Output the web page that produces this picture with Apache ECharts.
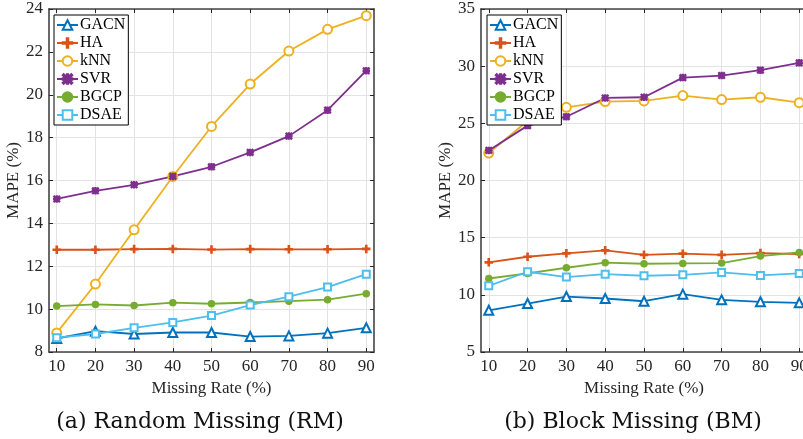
<!DOCTYPE html>
<html>
<head>
<meta charset="utf-8">
<script src="https://cdn.jsdelivr.net/npm/echarts@6/dist/echarts.min.js"></script>
<style>
  html, body { margin: 0; padding: 0; background: #fff; }
  #main { width: 803px; height: 439px; }
</style>
</head>
<body>
<div id="main"></div>
<script>
// 缺失率 (%)
const missingRates = [10, 20, 30, 40, 50, 60, 70, 80, 90];
const methods = ['GACN', 'HA', 'kNN', 'SVR', 'BGCP', 'DSAE'];

// (a) Random Missing
const rmGACN = [8.63, 8.97, 8.84, 8.91, 8.91, 8.72, 8.75, 8.88, 9.13];
const rmHA   = [12.77, 12.77, 12.80, 12.81, 12.78, 12.80, 12.79, 12.79, 12.81];
const rmKNN  = [8.89, 11.17, 13.70, 16.19, 18.52, 20.50, 22.04, 23.05, 23.69];
const rmSVR  = [15.14, 15.52, 15.80, 16.19, 16.64, 17.31, 18.07, 19.28, 21.12];
const rmBGCP = [10.14, 10.22, 10.17, 10.30, 10.25, 10.31, 10.37, 10.44, 10.72];
const rmDSAE = [8.67, 8.84, 9.13, 9.38, 9.70, 10.19, 10.58, 11.03, 11.63];

// (b) Block Missing
const bmGACN = [8.65, 9.24, 9.85, 9.68, 9.44, 10.06, 9.56, 9.39, 9.30];
const bmHA   = [12.84, 13.33, 13.63, 13.89, 13.50, 13.60, 13.50, 13.65, 13.57];
const bmKNN  = [22.40, 25.20, 26.40, 26.90, 26.96, 27.43, 27.08, 27.28, 26.81];
const bmSVR  = [22.63, 24.80, 25.58, 27.22, 27.28, 29.00, 29.18, 29.65, 30.29];
const bmBGCP = [11.43, 11.87, 12.37, 12.81, 12.72, 12.75, 12.78, 13.39, 13.71];
const bmDSAE = [10.79, 12.02, 11.55, 11.81, 11.67, 11.75, 11.96, 11.70, 11.87];

const colors = ['#0072BD', '#D95319', '#EDB120', '#7E2F8E', '#77AC30', '#4DBEEE'];
const plusPath = 'path://M4.2,0H5.8V4.2H10V5.8H5.8V10H4.2V5.8H0V4.2H4.2Z';
const starPath = 'path://M4.3,0H5.7V10H4.3Z M0,4.3H10V5.7H0Z M0,1L1,0L10,9L9,10Z M9,0L10,1L1,10L0,9Z';
const symbols = ['emptyTriangle', plusPath, 'emptyCircle', starPath, 'circle', 'emptyRect'];
const symbolSizes = [9, 7, 9, 6, 6, 7];

const font = 'Liberation Serif';
const axisColor = '#262626';

function pairs(arr) {
    return arr.map((v, i) => [missingRates[i], v]);
}

function makeSeries(list, gridIdx) {
    return list.map((arr, k) => ({
        name: methods[k],
        type: 'line',
        xAxisIndex: gridIdx * 2,
        yAxisIndex: gridIdx * 2,
        data: pairs(arr),
        symbol: symbols[k],
        symbolSize: symbolSizes[k],
        showAllSymbol: true,
        lineStyle: { color: colors[k], width: 1.8 },
        itemStyle: { color: colors[k], borderColor: colors[k], borderWidth: 1.5 },
        emphasis: { disabled: true },
        animation: false
    }));
}

function xAxes(gridIdx) {
    return [{
        type: 'value', gridIndex: gridIdx, min: 8, max: 92,
        name: 'Missing Rate (%)', nameLocation: 'middle', nameGap: 27,
        nameTextStyle: { fontFamily: font, fontSize: 17, color: axisColor },
        axisLine: { lineStyle: { color: '#444', width: 1.6 } },
        axisTick: { inside: true, length: 4, customValues: missingRates, lineStyle: { color: axisColor } },
        axisLabel: { customValues: missingRates, margin: 6, fontFamily: font, fontSize: 17, color: axisColor },
        splitLine: { show: true, lineStyle: { color: '#e3e3e3', width: 1 } }
    }, {
        type: 'value', gridIndex: gridIdx, min: 8, max: 92, position: 'top',
        axisLine: { lineStyle: { color: '#444', width: 1.6 } },
        axisTick: { inside: true, length: 4, customValues: missingRates, lineStyle: { color: axisColor } },
        axisLabel: { show: false },
        splitLine: { show: false }
    }];
}

function yAxes(gridIdx, min, max, interval) {
    return [{
        type: 'value', gridIndex: gridIdx, min: min, max: max, interval: interval,
        name: 'MAPE (%)', nameLocation: 'middle', nameGap: 23,
        nameTextStyle: { fontFamily: font, fontSize: 17, color: axisColor },
        axisLine: { show: true, lineStyle: { color: '#444', width: 1.6 } },
        axisTick: { show: true, inside: true, length: 4, lineStyle: { color: axisColor } },
        axisLabel: { margin: 6, fontFamily: font, fontSize: 17, color: axisColor },
        splitLine: { show: true, lineStyle: { color: '#e3e3e3', width: 1 } }
    }, {
        type: 'value', gridIndex: gridIdx, min: min, max: max, interval: interval, position: 'right',
        axisLine: { show: true, lineStyle: { color: '#444', width: 1.6 } },
        axisTick: { show: true, inside: true, length: 4, lineStyle: { color: axisColor } },
        axisLabel: { show: false },
        splitLine: { show: false }
    }];
}

function legendAt(left) {
    return {
        data: methods, left: left, top: 15, orient: 'vertical',
        backgroundColor: '#fff', borderColor: '#000', borderWidth: 1,
        padding: [2, 3, 2, 2], itemGap: 2, itemWidth: 21, itemHeight: 12,
        textStyle: { fontFamily: font, fontSize: 16, color: '#000', lineHeight: 16, padding: [0, 0, 0, -3] },
        selectedMode: false
    };
}

const chart = echarts.init(document.getElementById('main'));
chart.setOption({
    backgroundColor: '#fff',
    animation: false,
    title: [
        { text: '(a) Random Missing (RM)', left: 195, top: 406, textAlign: 'center',
          textStyle: { fontFamily: 'DejaVu Serif', fontSize: 22, fontWeight: 'normal', color: '#111' } },
        { text: '(b) Block Missing (BM)', left: 628, top: 406, textAlign: 'center',
          textStyle: { fontFamily: 'DejaVu Serif', fontSize: 22, fontWeight: 'normal', color: '#111' } }
    ],
    // 右圖故意超出畫布，跟原圖一樣
    grid: [
        { left: 49, top: 9, width: 325, height: 343, outerBoundsMode: 'none' },
        { left: 481, top: 9, width: 326, height: 343, outerBoundsMode: 'none' }
    ],
    legend: [legendAt(54), legendAt(487)],
    xAxis: xAxes(0).concat(xAxes(1)),
    yAxis: yAxes(0, 8, 24, 2).concat(yAxes(1, 5, 35, 5)),
    series: makeSeries([rmGACN, rmHA, rmKNN, rmSVR, rmBGCP, rmDSAE], 0)
        .concat(makeSeries([bmGACN, bmHA, bmKNN, bmSVR, bmBGCP, bmDSAE], 1))
});
</script>
</body>
</html>
